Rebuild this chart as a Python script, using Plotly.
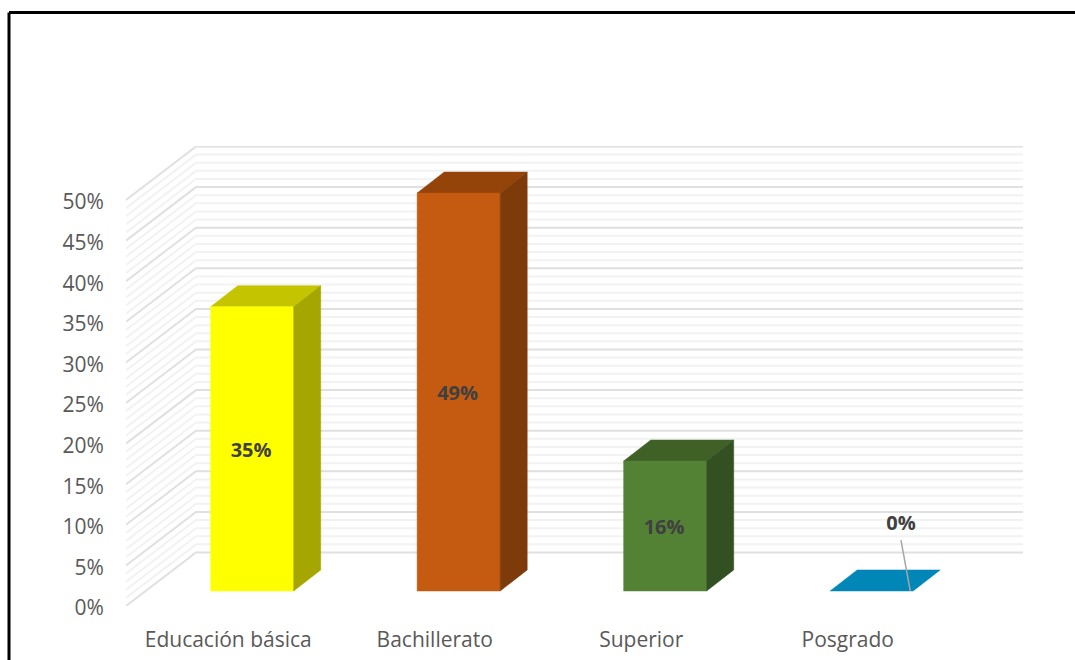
import plotly.graph_objects as go

# Chart data
categories = ["Educación básica", "Bachillerato", "Superior", "Posgrado"]
values = [35, 49, 16, 0]
value_labels = ["35%", "49%", "16%", "0%"]
axis_ticks = [0, 5, 10, 15, 20, 25, 30, 35, 40, 45, 50]
axis_tick_labels = ["0%", "5%", "10%", "15%", "20%", "25%", "30%", "35%", "40%", "45%", "50%"]
minor_ticks = [v for v in range(0, 51) if v % 5]

front_colors = ["#FFFF00", "#C55A11", "#548235", "#0087B8"]
top_colors = ["#C4C400", "#944409", "#3F6128", "#0087B8"]
side_colors = ["#A6A600", "#7E3B0A", "#325021", "#0087B8"]

# Oblique projection of the box, in axis units
WALL_DX, WALL_DY = 0.339, 6.59      # depth of the floor and side wall
BAR_DX, BAR_DY = 0.131, 2.59        # depth of a single bar
BAR_OFFSET, BAR_BASE = 0.111, 1.85  # where a bar stands on the floor
BAR_HALF = 0.201
X_MIN, X_MAX = -0.5, 3.844
Y_MAX = 56.65

FONT = "Open Sans"
TICK_COLOR = "#595959"
LABEL_COLOR = "#404040"

fig = go.Figure()


def polygon(xs, ys, color):
    fig.add_trace(go.Scatter(
        x=xs + xs[:1], y=ys + ys[:1], mode="lines", fill="toself",
        fillcolor=color, line=dict(color=color, width=0.5),
        hoverinfo="skip", showlegend=False, cliponaxis=False,
    ))


def wall_line(v, color, width):
    fig.add_trace(go.Scatter(
        x=[X_MIN, X_MIN + WALL_DX, X_MAX],
        y=[v, v + WALL_DY, v + WALL_DY],
        mode="lines", line=dict(color=color, width=width),
        hoverinfo="skip", showlegend=False, cliponaxis=False,
    ))


# Side and back walls: faint 1% lines under the stronger 5% lines
for v in minor_ticks:
    wall_line(v, "#F2F2F2", 2)
for v in axis_ticks:
    wall_line(v, "#E0E0E0", 2)

# Bars
for i, v in enumerate(values):
    left = i + BAR_OFFSET - BAR_HALF
    right = i + BAR_OFFSET + BAR_HALF
    low = BAR_BASE
    high = BAR_BASE + v
    polygon([left, left + BAR_DX, right + BAR_DX, right],
            [high, high + BAR_DY, high + BAR_DY, high], top_colors[i])
    if v > 0:
        polygon([left, right, right, left], [low, low, high, high], front_colors[i])
        polygon([right, right + BAR_DX, right + BAR_DX, right],
                [low, low + BAR_DY, high + BAR_DY, high], side_colors[i])

# Value labels centred on the bar fronts
bold_font = dict(family=FONT, size=20, color=LABEL_COLOR, weight="bold")
fig.add_trace(go.Scatter(
    x=[i + BAR_OFFSET - 0.005 for i in range(3)],
    y=[BAR_BASE + v / 2 - 0.4 for v in values[:3]],
    text=value_labels[:3], mode="text", textposition="middle center",
    textfont=bold_font, hoverinfo="skip", showlegend=False, cliponaxis=False,
))

# The empty bar carries its label on a leader line
last = len(values) - 1
leader_x = [last + BAR_OFFSET + BAR_HALF - 0.014, 3.253]
leader_y = [BAR_BASE + values[last], 8.1]
fig.add_trace(go.Scatter(
    x=leader_x, y=leader_y, mode="lines", line=dict(color="#A6A6A6", width=1.5),
    hoverinfo="skip", showlegend=False, cliponaxis=False,
))
fig.add_trace(go.Scatter(
    x=[3.253], y=[10.0], text=[value_labels[last]], mode="text",
    textposition="middle center", textfont=bold_font,
    hoverinfo="skip", showlegend=False, cliponaxis=False,
))

W, H = 1075, 660
M = dict(l=126, r=52, t=146, b=54)
plot_w = W - M["l"] - M["r"]
plot_h = H - M["t"] - M["b"]


def paper_x(px):
    return (px - M["l"]) / plot_w


def paper_y(py):
    return (H - M["b"] - py) / plot_h


# Frame around the chart, open on the right and at the bottom
frame_line = dict(color="#000000", width=3)
shapes = [
    dict(type="line", xref="paper", yref="paper",
         x0=paper_x(9), x1=paper_x(W + 5), y0=paper_y(12.5), y1=paper_y(12.5), line=frame_line),
    dict(type="line", xref="paper", yref="paper",
         x0=paper_x(9), x1=paper_x(9), y0=paper_y(12.5), y1=paper_y(H + 5), line=frame_line),
]

fig.update_layout(
    width=W, height=H, autosize=False, margin=dict(**M, pad=0, autoexpand=False),
    paper_bgcolor="#FFFFFF", plot_bgcolor="#FFFFFF", showlegend=False, shapes=shapes,
    xaxis=dict(
        range=[X_MIN, X_MAX], tickmode="array", tickvals=list(range(len(categories))),
        ticktext=categories, showgrid=False, zeroline=False, showline=False,
        automargin=False, ticks="outside", ticklen=15, tickcolor="rgba(0,0,0,0)",
        ticklabelshift=-1,
        tickfont=dict(family=FONT, size=21, color=TICK_COLOR),
    ),
    yaxis=dict(
        range=[0, Y_MAX], tickmode="array", tickvals=axis_ticks, ticktext=axis_tick_labels,
        showgrid=False, zeroline=False, showline=False,
        automargin=False, ticks="outside", ticklen=17, tickcolor="rgba(0,0,0,0)",
        ticklabelshift=2,
        tickfont=dict(family=FONT, size=21, color=TICK_COLOR),
    ),
)

fig.write_html("out.html")
